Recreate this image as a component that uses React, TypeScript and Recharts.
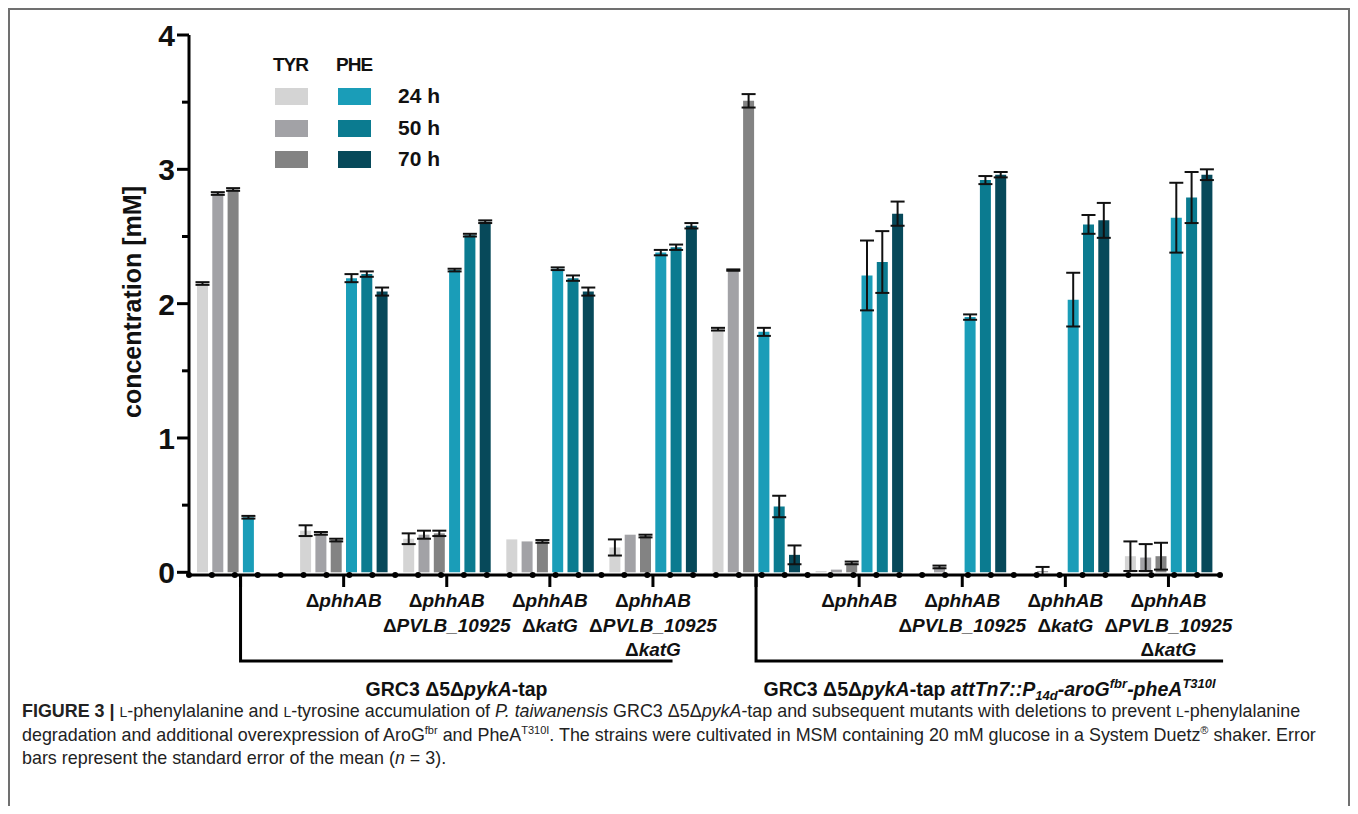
// Phe / Tyr accumulation per strain (grouped bars with SEM)
import { BarChart, Bar, XAxis, YAxis, ErrorBar, Legend } from 'recharts';

const FONT = '"Liberation Sans", Arial, sans-serif';

const strains = [
    'pykA-tap',
    'pykA-tap ΔphhAB',
    'pykA-tap ΔphhAB ΔPVLB_10925',
    'pykA-tap ΔphhAB ΔkatG',
    'pykA-tap ΔphhAB ΔPVLB_10925 ΔkatG',
    'attTn7',
    'attTn7 ΔphhAB',
    'attTn7 ΔphhAB ΔPVLB_10925',
    'attTn7 ΔphhAB ΔkatG',
    'attTn7 ΔphhAB ΔPVLB_10925 ΔkatG',
];

const strainLabels: string[][] = [
    [],
    ['ΔphhAB'],
    ['ΔphhAB', 'ΔPVLB_10925'],
    ['ΔphhAB', 'ΔkatG'],
    ['ΔphhAB', 'ΔPVLB_10925', 'ΔkatG'],
    [],
    ['ΔphhAB'],
    ['ΔphhAB', 'ΔPVLB_10925'],
    ['ΔphhAB', 'ΔkatG'],
    ['ΔphhAB', 'ΔPVLB_10925', 'ΔkatG'],
];

// TYR (mM)
const tyr24 = [2.15, 0.31, 0.25, 0.245, 0.185, 1.81, 0.01, 0, 0, 0.12];
const tyr24Err = [0.01, 0.04, 0.04, 0, 0.06, 0.01, 0, 0, 0, 0.11];
const tyr50 = [2.82, 0.29, 0.28, 0.23, 0.28, 2.25, 0.02, 0.04, 0.01, 0.11];
const tyr50Err = [0.01, 0.01, 0.03, 0, 0, 0.005, 0, 0.01, 0.03, 0.1];
const tyr70 = [2.85, 0.24, 0.29, 0.23, 0.27, 3.51, 0.07, 0, 0, 0.12];
const tyr70Err = [0.01, 0.01, 0.02, 0.01, 0.01, 0.05, 0.01, 0, 0, 0.1];

// PHE (mM)
const phe24 = [0.41, 2.19, 2.25, 2.26, 2.38, 1.79, 2.21, 1.9, 2.03, 2.64];
const phe24Err = [0.01, 0.03, 0.01, 0.01, 0.02, 0.03, 0.26, 0.02, 0.2, 0.26];
const phe50 = [0, 2.22, 2.51, 2.19, 2.42, 0.49, 2.31, 2.92, 2.59, 2.79];
const phe50Err = [0, 0.02, 0.01, 0.02, 0.02, 0.08, 0.23, 0.03, 0.07, 0.19];
const phe70 = [0, 2.09, 2.61, 2.09, 2.58, 0.13, 2.67, 2.96, 2.62, 2.96];
const phe70Err = [0, 0.03, 0.01, 0.03, 0.02, 0.07, 0.09, 0.02, 0.13, 0.04];

const yTicks = [0, 0.5, 1, 1.5, 2, 2.5, 3, 3.5, 4];
const timeLabels = ['24 h', '50 h', '70 h'];
const tyrColors = ['#d4d4d4', '#a2a2a6', '#838383'];
const pheColors = ['#1a9db8', '#0b7b90', '#07495a'];

const DOT_COUNT = 46;
const dotTicks = Array.from({ length: DOT_COUNT }, (_, i) => i);

const CHART_W = 1358;
const CHART_H = 720;
const MARGIN = { top: 35, right: 138, bottom: 143, left: 109 };
const Y_AXIS_W = 80;
const BAND = (CHART_W - MARGIN.left - Y_AXIS_W - MARGIN.right) / strains.length;

// brackets under the two strain families
const brackets = [
    { from: 0, span: 4.19, title: 'base' },
    { from: 5, span: 4.53, title: 'tn7' },
];

const data = strains.map((s, i) => ({
    strain: s,
    tyr24: tyr24[i],
    tyr24Err: tyr24Err[i],
    tyr50: tyr50[i],
    tyr50Err: tyr50Err[i],
    tyr70: tyr70[i],
    tyr70Err: tyr70Err[i],
    phe24: phe24[i],
    phe24Err: phe24Err[i],
    phe50: phe50[i],
    phe50Err: phe50Err[i],
    phe70: phe70[i],
    phe70Err: phe70Err[i],
}));

function StrainTitle({ x, y, kind }: { x: number; y: number; kind: string }) {
    const common = { fontFamily: FONT, fontWeight: 700, fontSize: 19.5, fill: '#111' };
    if (kind === 'base') {
        return (
            <text x={x} y={y} textAnchor="middle" {...common}>
                GRC3 Δ5Δ<tspan fontStyle="italic">pykA</tspan>-tap
            </text>
        );
    }
    return (
        <text x={x} y={y} textAnchor="middle" {...common}>
            GRC3 Δ5Δ<tspan fontStyle="italic">pykA</tspan>-tap{' '}
            <tspan fontStyle="italic">attTn7::P</tspan>
            <tspan fontStyle="italic" fontSize={13} dy={4}>14d</tspan>
            <tspan fontStyle="italic" dy={-4}>-aroG</tspan>
            <tspan fontStyle="italic" fontSize={13} dy={-8}>fbr</tspan>
            <tspan fontStyle="italic" dy={8}>-pheA</tspan>
            <tspan fontStyle="italic" fontSize={13} dy={-8}>T310I</tspan>
        </text>
    );
}

function StrainTick(props: any) {
    const { x, y, index } = props;
    const lines = strainLabels[index] ?? [];
    const br = brackets.find((b) => b.from === index);
    return (
        <g>
            {lines.map((ln, i) => (
                <text
                    key={i}
                    x={x}
                    y={y + 20 + i * 24.5}
                    textAnchor="middle"
                    fontFamily={FONT}
                    fontWeight={700}
                    fontSize={19}
                    fill="#111"
                >
                    Δ<tspan fontStyle="italic">{ln.slice(1)}</tspan>
                </text>
            ))}
            {br && (
                <g>
                    <polyline
                        points={`${x},${y - 12} ${x},${y + 74} ${x + br.span * BAND},${y + 74}`}
                        fill="none"
                        stroke="#000"
                        strokeWidth={3}
                    />
                    <StrainTitle x={x + (br.span * BAND) / 2} y={y + 109} kind={br.title} />
                </g>
            )}
        </g>
    );
}

function DotTick(props: any) {
    const { x, y } = props;
    return <circle cx={x} cy={y - 1} r={3} fill="#000" />;
}

function YTick(props: any) {
    const { x, y, payload } = props;
    const major = Number.isInteger(payload.value);
    return (
        <g>
            <line x1={x} x2={x - (major ? 12 : 7)} y1={y} y2={y} stroke="#000" strokeWidth={3} />
            {major && (
                <text
                    x={x - 14}
                    y={y + 11}
                    textAnchor="end"
                    fontFamily={FONT}
                    fontWeight={700}
                    fontSize={30}
                    fill="#111"
                >
                    {payload.value}
                </text>
            )}
        </g>
    );
}

function YLabel(props: any) {
    const vb = props.viewBox ?? { x: MARGIN.left, y: MARGIN.top, width: Y_AXIS_W, height: 540 };
    const cx = vb.x + 23;
    const cy = vb.y + vb.height / 2 - 3;
    return (
        <text
            x={cx}
            y={cy}
            transform={`rotate(-90, ${cx}, ${cy})`}
            textAnchor="middle"
            dominantBaseline="central"
            fontFamily={FONT}
            fontWeight={700}
            fontSize={25}
            fill="#111"
        >
            concentration [mM]
        </text>
    );
}

function LegendBox() {
    const head = { position: 'absolute' as const, top: 0, fontSize: 19, fontWeight: 700, lineHeight: '20px', letterSpacing: -1 };
    return (
        <div style={{ position: 'relative', width: 200, height: 120, fontFamily: FONT, color: '#111' }}>
            <div style={{ ...head, left: 0 }}>TYR</div>
            <div style={{ ...head, left: 63 }}>PHE</div>
            {timeLabels.map((t, i) => (
                <div key={t}>
                    <div style={{ position: 'absolute', left: 2, top: 33 + i * 31.5, width: 33, height: 17, background: tyrColors[i] }} />
                    <div style={{ position: 'absolute', left: 65, top: 33 + i * 31.5, width: 33, height: 17, background: pheColors[i] }} />
                    <div
                        style={{
                            position: 'absolute',
                            left: 125,
                            top: 30 + i * 31.5,
                            fontSize: 21,
                            fontWeight: 700,
                            lineHeight: '22px',
                            whiteSpace: 'nowrap',
                        }}
                    >
                        {t}
                    </div>
                </div>
            ))}
        </div>
    );
}

const series = [
    { key: 'tyr24', color: tyrColors[0] },
    { key: 'tyr50', color: tyrColors[1] },
    { key: 'tyr70', color: tyrColors[2] },
    { key: 'phe24', color: pheColors[0] },
    { key: 'phe50', color: pheColors[1] },
    { key: 'phe70', color: pheColors[2] },
];

const sc = { fontSize: '0.78em' };
const sup = { fontSize: 11, position: 'relative' as const, top: -7, lineHeight: 0 };

export default function App() {
    return (
        <div
            style={{
                position: 'relative',
                width: 1342,
                height: 798,
                boxSizing: 'border-box',
                border: '2px solid #707070',
                borderBottom: 'none',
                fontFamily: FONT,
            }}
        >
            <div style={{ position: 'absolute', left: -10, top: -10 }}>
                <BarChart
                    width={CHART_W}
                    height={CHART_H}
                    data={data}
                    margin={MARGIN}
                    barSize={11}
                    barGap={4.3}
                >
                    <XAxis
                        xAxisId="cat"
                        dataKey="strain"
                        height={1}
                        interval={0}
                        axisLine={{ stroke: '#000', strokeWidth: 3 }}
                        tickLine={{ stroke: '#000', strokeWidth: 3 }}
                        tickSize={12}
                        tickMargin={0}
                        tick={<StrainTick />}
                    />
                    <XAxis
                        xAxisId="dots"
                        type="number"
                        dataKey="dotIdx"
                        domain={[0, DOT_COUNT - 1]}
                        ticks={dotTicks}
                        interval={0}
                        height={1}
                        axisLine={false}
                        tickLine={false}
                        tickSize={0}
                        tickMargin={0}
                        tick={<DotTick />}
                        allowDataOverflow
                    />
                    <YAxis
                        domain={[0, 4]}
                        ticks={yTicks}
                        interval={0}
                        width={Y_AXIS_W}
                        axisLine={{ stroke: '#000', strokeWidth: 3 }}
                        tickLine={false}
                        tickSize={0}
                        tickMargin={0}
                        tick={<YTick />}
                        label={<YLabel />}
                    />
                    <Legend
                        layout="vertical"
                        align="center"
                        verticalAlign="middle"
                        content={<LegendBox />}
                        wrapperStyle={{ left: 273, top: 55, width: 200, height: 120 }}
                    />
                    {series.map((s) => (
                        <Bar key={s.key} xAxisId="cat" dataKey={s.key} fill={s.color} isAnimationActive={false}>
                            <ErrorBar dataKey={`${s.key}Err`} width={7} strokeWidth={2} stroke="#111" direction="y" />
                        </Bar>
                    ))}
                </BarChart>
            </div>
            <div
                style={{
                    position: 'absolute',
                    left: 12,
                    top: 690,
                    fontSize: 17.9,
                    lineHeight: '23px',
                    color: '#222',
                    whiteSpace: 'nowrap',
                }}
            >
                <b>FIGURE 3 |</b> <span style={sc}>L</span>-phenylalanine and <span style={sc}>L</span>-tyrosine accumulation of{' '}
                <i>P. taiwanensis</i> GRC3 Δ5Δ<i>pykA</i>-tap and subsequent mutants with deletions to prevent{' '}
                <span style={sc}>L</span>-phenylalanine
                <br />
                degradation and additional overexpression of AroG<span style={sup}>fbr</span> and PheA
                <span style={sup}>T310I</span>. The strains were cultivated in MSM containing 20 mM glucose in a System Duetz
                <span style={sup}>®</span> shaker. Error
                <br />
                bars represent the standard error of the mean (<i>n</i> = 3).
            </div>
        </div>
    );
}
